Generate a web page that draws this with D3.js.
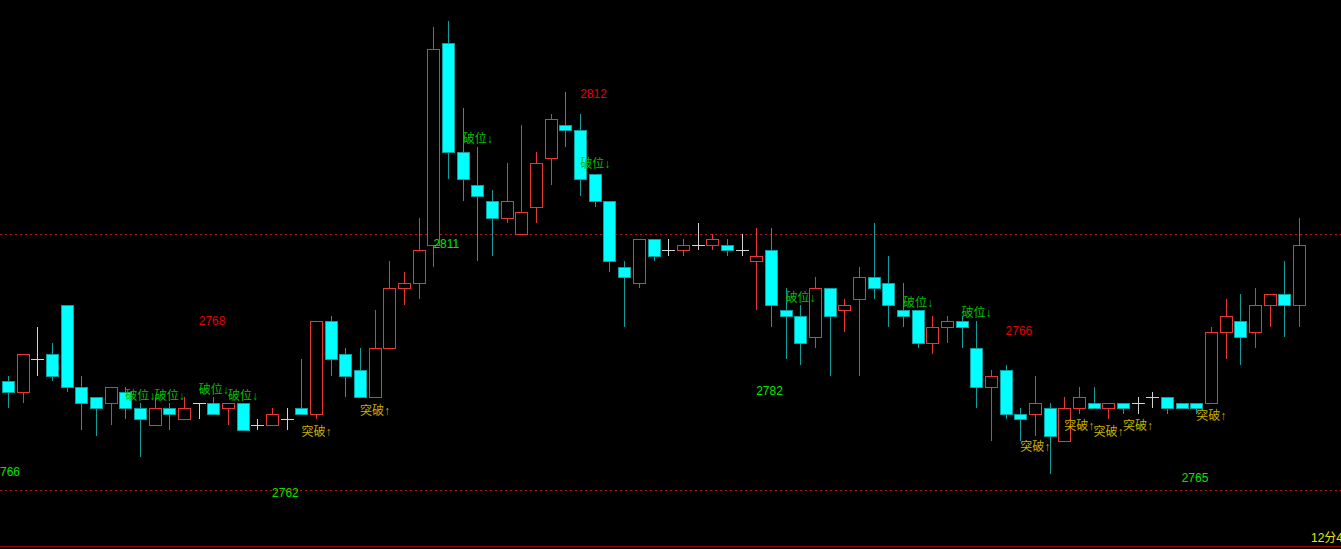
<!DOCTYPE html>
<html>
<head>
<meta charset="utf-8">
<script src="https://cdnjs.cloudflare.com/ajax/libs/d3/7.8.5/d3.min.js"></script>
<style>
  html, body { margin: 0; padding: 0; background: #000; overflow: hidden; }
  #chart svg { display: block; }
</style>
</head>
<body>
<div id="chart"></div>
<script>
const width = 1341;
const height = 549;

// OHLC, one value per bar
const open = [2784,2782,2788,2789,2798,2783,2781,2780,2782,2779,
  2776,2779,2777,2780,2780,2779,2780,2776,2776,2777,
  2779,2778,2795,2789,2786,2781,2790,2801,2802,2809,
  2846,2826,2820,2817,2814,2811,2816,2825,2831,2830,
  2822,2817,2805,2802,2810,2808,2808,2809,2809,2809,
  2808,2806,2808,2797,2796,2792,2801,2797,2799,2803,
  2802,2797,2797,2791,2794,2795,2790,2783,2786,2778,
  2778,2779,2773,2779,2780,2779,2780,2780,2781,2781,
  2780,2780,2780,2793,2795,2793,2798,2800,2798];
const high = [2785,2789,2794,2791,2798,2785,2781,2783,2783,2780,
  2781,2780,2781,2780,2781,2780,2780,2777,2779,2779,
  2788,2795,2796,2790,2790,2797,2806,2804,2814,2849,
  2850,2834,2827,2819,2824,2831,2826,2833,2837,2833,
  2822,2817,2806,2810,2810,2810,2810,2813,2811,2810,
  2811,2812,2812,2801,2798,2803,2801,2799,2805,2813,
  2807,2802,2797,2796,2796,2796,2795,2786,2787,2779,
  2785,2780,2781,2783,2783,2780,2780,2781,2782,2781,
  2780,2780,2794,2799,2800,2801,2800,2806,2814];
const low = [2779,2780,2785,2784,2782,2775,2774,2776,2777,2770,
  2776,2775,2777,2777,2778,2776,2775,2775,2776,2775,
  2778,2777,2785,2781,2781,2781,2790,2798,2799,2805,
  2821,2817,2806,2807,2813,2811,2813,2820,2827,2818,
  2816,2804,2794,2801,2806,2807,2807,2808,2808,2807,
  2807,2797,2794,2788,2787,2790,2785,2793,2785,2799,
  2794,2794,2790,2789,2791,2790,2779,2773,2777,2773,
  2774,2767,2773,2778,2779,2777,2778,2778,2779,2778,
  2779,2778,2780,2788,2787,2790,2794,2792,2794];
const close = [2782,2789,2788,2785,2783,2780,2779,2783,2779,2777,
  2779,2778,2779,2780,2778,2780,2775,2776,2778,2777,
  2778,2795,2788,2785,2781,2790,2801,2802,2808,2845,
  2826,2821,2818,2814,2817,2815,2824,2832,2830,2821,
  2817,2806,2803,2810,2807,2808,2809,2809,2810,2808,
  2808,2807,2798,2796,2791,2801,2796,2798,2803,2801,
  2798,2796,2791,2794,2795,2794,2783,2785,2778,2777,
  2780,2774,2779,2781,2779,2780,2779,2780,2781,2779,
  2779,2779,2793,2796,2792,2798,2800,2798,2809];

// signal labels: bar index + price level
const breakDown = [[8,2781.3],[10,2781.3],[13,2782.4],[15,2781.3],[31,2828.4],[39,2823.8],[53,2799.2],[61,2798.3],[65,2796.5]];
const breakUp = [[20,2774.6],[24,2778.5],[69,2772],[72,2775.7],[74,2774.7],[76,2775.7],[81,2777.6]];
const redMarks = [[13,2795.1,"2768"],[39,2836.7,"2812"],[68,2793.1,"2766"]];
const greenMarks = [[-1,2767.4,"2766"],[18,2763.4,"2762"],[29,2809.2,"2811"],[51,2782.2,"2782"],[80,2766.2,"2765"]];
const refLines = [2811, 2764];

const svg = d3
  .select("#chart")
  .append("svg")
  .attr("width", width)
  .attr("height", height)
  .style("background", "#000");

const xScale = d3.scaleLinear().domain([0, open.length - 1]).range([8, 1299]);
const yScale = d3.scaleLinear().domain([2753.2, 2853.9]).range([height, 0]);

const bars = open.map((o, i) => ({ i, o, h: high[i], l: low[i], c: close[i] }));
const bodyW = 12;

const upColor = "#e63737";
const downColor = "#00ffff";
const downWick = "#129c9c";
const flatColor = "#d2d2d2";

const marks = svg.append("g").attr("shape-rendering", "crispEdges");

// dotted reference lines
marks.selectAll(".ref")
  .data(refLines)
  .enter()
  .append("line")
  .attr("x1", 0)
  .attr("x2", width)
  .attr("y1", (d) => Math.round(yScale(d)) + 0.5)
  .attr("y2", (d) => Math.round(yScale(d)) + 0.5)
  .attr("stroke", "#b01414")
  .attr("stroke-dasharray", "2,3");

// bottom border
marks.append("line")
  .attr("x1", 0).attr("x2", width)
  .attr("y1", height - 2.5).attr("y2", height - 2.5)
  .attr("stroke", "#8c0000");

const cx = (d) => Math.round(xScale(d.i)) + 0.5;
const color = (d) => d.c > d.o ? upColor : (d.c < d.o ? downColor : flatColor);

// wicks
marks.selectAll(".wick")
  .data(bars)
  .enter()
  .append("line")
  .attr("x1", cx)
  .attr("x2", cx)
  .attr("y1", (d) => Math.round(yScale(d.h)))
  .attr("y2", (d) => Math.round(yScale(d.l)))
  .attr("stroke", (d) => d.c < d.o ? downWick : color(d));

// bodies
marks.selectAll(".body")
  .data(bars.filter((d) => d.c !== d.o))
  .enter()
  .append("rect")
  .attr("x", (d) => Math.round(xScale(d.i)) - bodyW / 2 + 0.5)
  .attr("y", (d) => Math.round(yScale(Math.max(d.o, d.c))) + 0.5)
  .attr("width", bodyW)
  .attr("height", (d) => Math.round(yScale(Math.min(d.o, d.c))) - Math.round(yScale(Math.max(d.o, d.c))))
  .attr("fill", (d) => d.c > d.o ? "#000" : downColor)
  .attr("stroke", (d) => d.c > d.o ? upColor : "#0aa0a0")
  .attr("stroke-width", 1);

// doji crosses
marks.selectAll(".doji")
  .data(bars.filter((d) => d.c === d.o))
  .enter()
  .append("line")
  .attr("x1", (d) => Math.round(xScale(d.i)) - bodyW / 2)
  .attr("x2", (d) => Math.round(xScale(d.i)) + bodyW / 2 + 1)
  .attr("y1", (d) => Math.round(yScale(d.o)) + 0.5)
  .attr("y2", (d) => Math.round(yScale(d.o)) + 0.5)
  .attr("stroke", flatColor);

// labels
const font = "'Liberation Sans', 'Noto Sans CJK SC', sans-serif";

function addLabels(data, textFn, fill) {
  svg.append("g")
    .selectAll("text")
    .data(data)
    .enter()
    .append("text")
    .attr("x", (d) => xScale(d[0]))
    .attr("y", (d) => yScale(d[1]))
    .attr("dominant-baseline", "central")
    .attr("font-family", font)
    .attr("font-size", 12)
    .style("fill", fill)
    .text(textFn);
}

addLabels(breakDown, () => "破位↓", "#00c000");
addLabels(breakUp, () => "突破↑", "#c4b200");
addLabels(redMarks, (d) => d[2], "#e60000");
addLabels(greenMarks, (d) => d[2], "#00e600");

// countdown text, bottom right (clipped by the edge as in the source)
svg.append("text")
  .attr("x", 1311)
  .attr("y", 538)
  .attr("dominant-baseline", "central")
  .attr("font-family", font)
  .attr("font-size", 12)
  .style("fill", "#e6e600")
  .text("12分45秒");
</script>
</body>
</html>
